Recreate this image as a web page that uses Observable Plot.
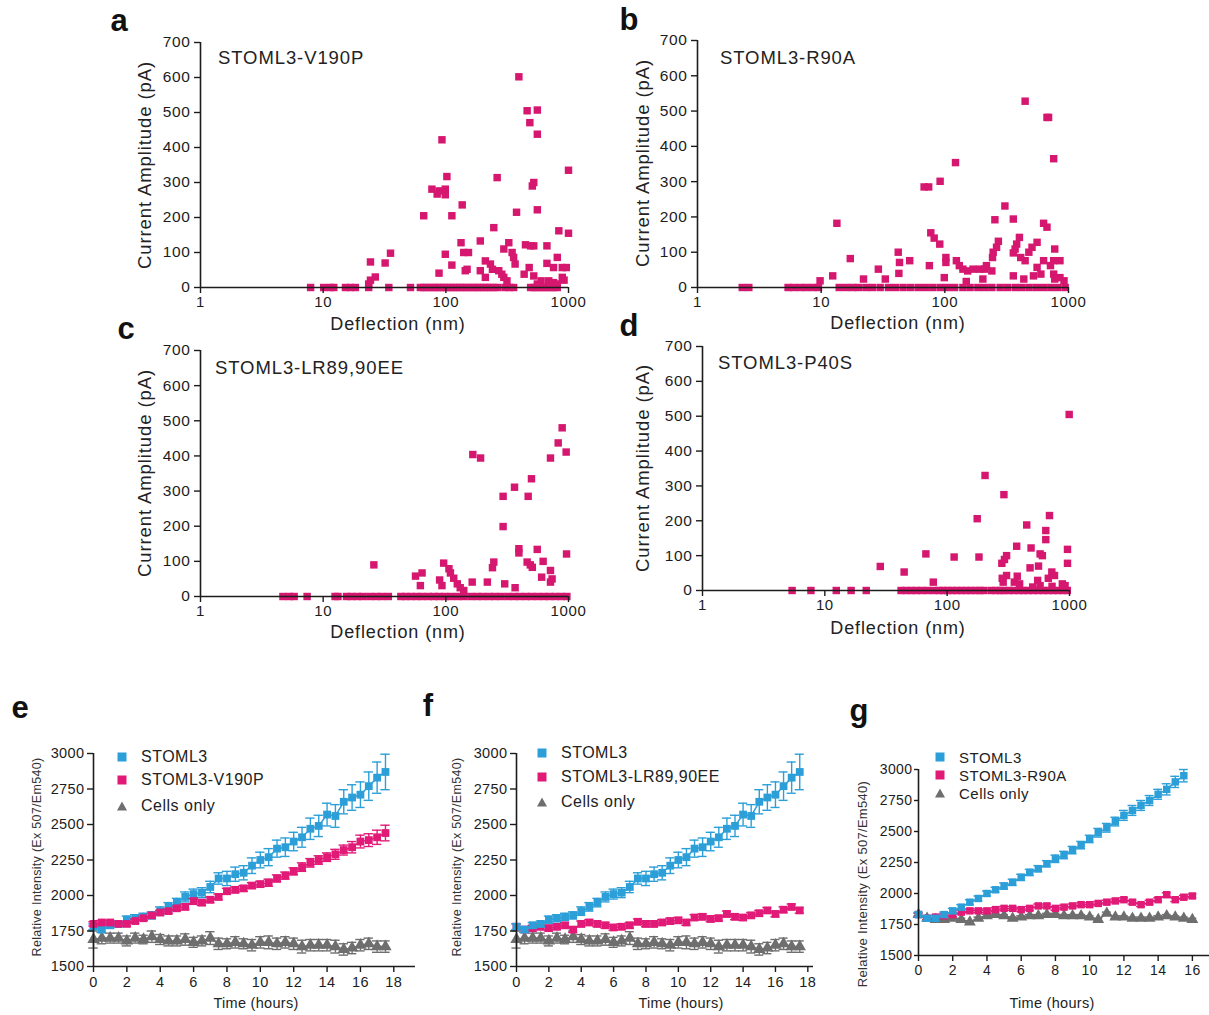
<!DOCTYPE html>
<html><head><meta charset="utf-8">
<script src="https://cdn.jsdelivr.net/npm/d3@7"></script>
<script src="https://cdn.jsdelivr.net/npm/@observablehq/plot@0.6"></script>
<style>
html,body{margin:0;padding:0;background:#fff;overflow:hidden;}
#root{position:relative;width:1209px;height:1015px;overflow:hidden;background:#fff;font-family:'Liberation Sans',Arial,Helvetica,sans-serif;}
#root svg{position:absolute;overflow:visible;}
</style></head>
<body><div id="root"></div>
<script>
// ---------------- DATA ----------------
// Scatter panels: [deflection (nm), current amplitude (pA)]
const pointsA = [
  [7.9,0],[10.1,0],[11.5,0],[12.2,0],[15.2,0],[16.7,0],[18.3,0],[23.5,0],[34.3,0],[51.5,0],[62,0],[66,0],[70,0],[75,0],[80,0],[85,0],[90,0],[96,0],[102,0],[109,0],[116,0],[123,0],[131,0],[140,0],[149,0],[159,0],[169,0],[180,0],[191,0],[204,0],[217,0],[231,0],[246,0],[265,0],[304,0],[330,0],[357,0],[491,0],[523,0],[557,0],[593,0],[631,0],[672,0],[715,0],[762,0],[810,0],
  [394,602],[460,505],[557,507],[484,471],[557,438],[93,422],[1000,335],[262,314],[102,317],[521,300],[507,290],[77,281],[88,276],[99,281],[85,267],[99,265],[136,236],[557,222],[377,215],[66,205],[112,205],[246,171],[834,162],[1000,155],[191,133],[133,128],[326,128],[446,122],[491,119],[521,119],[667,119],[35.4,98],[99,95],[140,100],[153,100],[297,110],[347,100],[357,86],[810,86],[24.3,73],[32,70],[367,67],[112,64],[210,76],[231,67],[667,69],[478,57],[755,57],[890,57],[960,57],[240,52],[270,48],[191,48],[149,52],[144,48],[88,41],[286,38],[435,38],[521,33],[26.6,30],[210,29],[297,29],[890,29],[920,21],[24.3,21],[315,19],[598,19],[690,19],[755,14],[557,10],[23.5,10],[810,10]
];
const pointsB = [
  [2.3,0],[2.6,0],[5.4,0],[6.0,0],[6.8,0],[7.6,0],[8.6,0],[9.5,0],[14,0],[16,0],[18,0],[20,0],[23,0],[26,0],[30,0],[35,0],[40,0],[46,0],[53,0],[61,0],[70,0],[80,0],[92,0],[105,0],[120,0],[140,0],[160,0],[185,0],[210,0],[240,0],[280,0],[320,0],[370,0],[420,0],[480,0],[550,0],[630,0],[720,0],[820,0],[940,0],
  [446,528],[670,482],[690,482],[759,365],[122,354],[91.6,301],[68,285],[74,285],[306,231],[358,194],[254,192],[13.4,182],[629,182],[670,171],[77,155],[82,140],[91,123],[401,142],[381,123],[271,131],[262,114],[246,100],[243,85],[557,128],[507,114],[478,100],[370,109],[358,98],[774,109],[42,100],[17.2,82],[102,85],[102,71],[124,76],[131,62],[140,52],[153,47],[169,52],[191,52],[217,62],[210,52],[411,85],[446,76],[629,76],[759,76],[853,76],[52,76],[43,71],[75,62],[557,57],[715,62],[29,52],[240,47],[42.5,40],[759,38],[853,28],[99,28],[12.4,33],[358,33],[521,33],[598,38],[9.8,19],[22,24],[33,24],[149,17],[203,24],[435,24],[920,19],[774,24]
];
const pointsC = [
  [4.7,0],[5.3,0],[5.8,0],[7.4,0],[12.5,0],[13.2,0],[15.5,0],[17,0],[19,0],[21,0],[24,0],[27,0],[30,0],[34,0],[43,0],[47,0],[52,0],[58,0],[64,0],[72,0],[80,0],[88,0],[98,0],[110,0],[125,0],[140,0],[160,0],[180,0],[200,0],[225,0],[250,0],[280,0],[320,0],[360,0],[400,0],[450,0],[500,0],[560,0],[630,0],[700,0],[780,0],[870,0],[970,0],
  [888,480],[824,437],[957,411],[713,394],[166,404],[192,394],[499,335],[363,311],[293,285],[469,285],[293,199],[394,136],[394,124],[556,134],[964,121],[460,98],[488,90],[507,83],[621,100],[25.9,90],[246,98],[240,82],[96,95],[106,79],[109,67],[116,52],[713,74],[735,50],[713,41],[604,55],[56.6,58],[64,67],[62,31],[89,47],[93,31],[124,36],[131,25],[140,17],[164,41],[218,41],[302,36],[367,25]
];
const pointsD = [
  [5.4,0],[7.7,0],[12.4,0],[16.4,0],[21.8,0],[42,0],[46,0],[51,0],[56,0],[62,0],[69,0],[78,0],[86,0],[93,0],[101,0],[110,0],[120,0],[131,0],[143,0],[156,0],[170,0],[185,0],[198,0],[228,0],[250,0],[272,0],[290,0],[320,0],[350,0],[385,0],[420,0],[460,0],[505,0],[555,0],[610,0],[670,0],[735,0],[800,0],[880,0],[960,0],
  [994,505],[204,330],[291,275],[686,215],[176,206],[447,188],[640,172],[640,146],[370,127],[485,122],[963,118],[575,105],[600,100],[67,105],[114,96],[182,96],[306,100],[294,89],[963,78],[280,78],[476,65],[558,70],[28.4,69],[44.5,53],[717,53],[754,43],[306,43],[374,41],[671,35],[282,35],[354,24],[391,19],[549,29],[874,19],[920,14],[77,24],[287,24],[500,10],[575,14],[720,12]
];
const scatterTitles = ["STOML3-V190P", "STOML3-R90A", "STOML3-LR89,90EE", "STOML3-P40S"];
const deflectionTicks = [1, 10, 100, 1000];
const amplitudeTicks = [0, 100, 200, 300, 400, 500, 600, 700];

// Time course panels (hours, relative intensity Ex 507/Em540)
const timeEF = [0,0.5,1,1.5,2,2.5,3,3.5,4,4.5,5,5.5,6,6.5,7,7.5,8,8.5,9,9.5,10,10.5,11,11.5,12,12.5,13,13.5,14,14.5,15,15.5,16,16.5,17,17.5];
const stoml3EF = [1780,1760,1790,1800,1830,1840,1850,1860,1890,1920,1950,1990,2010,2020,2060,2120,2120,2150,2160,2210,2250,2270,2330,2340,2380,2410,2470,2490,2570,2560,2660,2690,2710,2770,2830,2870];
const stoml3EFerr = [20,20,20,20,25,25,25,25,30,30,30,35,35,35,40,40,50,50,50,55,55,60,60,65,65,70,75,75,80,80,85,90,90,100,110,125];
const v190p = [1800,1810,1810,1800,1800,1820,1840,1860,1880,1890,1910,1920,1960,1950,1970,1990,2030,2040,2050,2070,2080,2090,2120,2140,2170,2200,2230,2250,2270,2290,2320,2340,2380,2390,2410,2440];
const v190pErr = [15,15,15,15,15,15,15,15,15,15,15,20,20,20,20,20,20,20,20,20,20,25,25,25,25,30,30,30,30,35,35,40,45,45,50,55];
const lr8990ee = [1780,1760,1770,1780,1770,1780,1790,1760,1800,1810,1800,1790,1775,1780,1790,1815,1800,1800,1810,1820,1825,1810,1845,1850,1835,1840,1870,1850,1845,1860,1875,1895,1870,1900,1920,1895];
const lr8990eeErr = [20,20,20,20,20,20,20,20,20,20,20,20,20,20,20,20,20,20,20,20,20,20,20,20,20,20,20,20,20,20,20,20,20,20,20,20];
const cellsEF = [1690,1700,1700,1700,1680,1700,1690,1710,1690,1680,1680,1690,1670,1680,1700,1660,1660,1670,1660,1650,1670,1670,1660,1670,1660,1640,1650,1650,1650,1640,1620,1630,1650,1660,1640,1640];
const cellsEFerr = [60,40,35,35,35,35,30,40,35,35,35,40,35,35,45,40,35,40,35,40,40,45,40,40,40,45,40,40,40,45,40,40,40,40,40,40];

const timeG = [0,0.5,1,1.5,2,2.5,3,3.5,4,4.5,5,5.5,6,6.5,7,7.5,8,8.5,9,9.5,10,10.5,11,11.5,12,12.5,13,13.5,14,14.5,15,15.5,16];
const stoml3G = [1830,1800,1800,1830,1860,1890,1930,1960,2000,2030,2060,2090,2130,2170,2200,2240,2280,2310,2350,2390,2440,2490,2530,2580,2630,2670,2710,2750,2800,2840,2900,2950];
const stoml3Gerr = [20,20,20,20,20,20,20,20,20,20,25,25,25,25,25,25,30,30,30,30,30,35,35,35,40,40,40,40,40,45,45,50];
const r90a = [1830,1800,1810,1820,1830,1850,1860,1860,1860,1870,1880,1880,1870,1880,1900,1900,1880,1890,1900,1910,1910,1920,1930,1940,1950,1930,1910,1930,1950,1990,1950,1970,1980];
const r90aErr = [15,15,15,15,15,15,15,15,15,15,15,15,15,15,15,15,15,15,15,15,15,15,15,15,15,15,15,15,15,15,15,15,15];
const cellsG = [1830,1800,1790,1790,1800,1790,1770,1800,1820,1830,1820,1800,1810,1820,1820,1830,1830,1820,1820,1820,1810,1790,1840,1810,1810,1800,1800,1800,1810,1820,1810,1800,1790];
const cellsGerr = [10,10,10,10,10,10,10,10,10,10,10,10,10,10,10,10,10,10,10,10,10,10,10,10,10,10,10,10,10,10,10,10,10];

const intensityTicks = [1500, 1750, 2000, 2250, 2500, 2750, 3000];
const timeTicksEF = [0, 2, 4, 6, 8, 10, 12, 14, 16, 18];
const timeTicksG = [0, 2, 4, 6, 8, 10, 12, 14, 16];

// ---------------- STYLE ----------------
const FONT = "'Liberation Sans', Arial, Helvetica, sans-serif";
const INK = "#1c1c1c";
const MAG = "#d6176f";
const BLUE = "#2c9fd8";
const PINK = "#e11a78";
const GRAY = "#6e6e6e";

const root = document.getElementById("root");
function place(el, left, top) { el.style.left = left + "px"; el.style.top = top + "px"; root.appendChild(el); }
function txt(s, x, y, o = {}) {
  const d = document.createElement("div");
  d.textContent = s;
  const size = o.size || 16;
  d.style.cssText = `position:absolute;left:${x}px;top:${y}px;font-size:${size}px;font-weight:${o.weight||"normal"};white-space:nowrap;line-height:1;color:${o.color||"#222"};letter-spacing:${o.ls==null?"0.6px":o.ls};`;
  const tx = o.anchor === "middle" ? "-50%" : o.anchor === "end" ? "-100%" : "0";
  d.style.transform = o.rotate ? "translate(-50%,-50%) rotate(-90deg)" : `translate(${tx},-50%)`;
  root.appendChild(d);
}

// ---------------- SCATTER PANELS ----------------
function scatterPanel(pts, g) {
  const mL = 100, mR = 18, mT = 14, mB = 30;
  const svg = Plot.plot({
    width: g.right - g.axis + mL + mR,
    height: g.bottom - g.top + mT + mB,
    marginLeft: mL, marginRight: mR, marginTop: mT, marginBottom: mB,
    style: {fontFamily: FONT, fontSize: "15.5px", color: INK, background: "transparent", letterSpacing: "0.6px"},
    x: {type: "log", domain: [1, 1000]},
    y: {domain: [0, 700]},
    marks: [
      Plot.dot(pts, {x: d => d[0], y: d => d[1], symbol: "square", r: 4.2, fill: MAG}),
      Plot.ruleY([0], {stroke: INK, strokeWidth: 1.6}),
      Plot.ruleX([1], {stroke: INK, strokeWidth: 1.6}),
      Plot.axisY(amplitudeTicks, {tickSize: 6, tickPadding: 4, label: null, stroke: INK, strokeWidth: 1.4, fontSize: 15.5}),
      Plot.axisX(deflectionTicks, {tickSize: 6, tickPadding: 3, tickFormat: d => String(d), label: null, stroke: INK, strokeWidth: 1.4, fontSize: 15})
    ]
  });
  place(svg, g.axis - mL, g.top - mT);
}
const scatterGeo = [
  {axis: 200, top: 42, bottom: 287, right: 568, title: [218, 58], ylab: [145, 165], xlab: [398, 324], letter: ["a", 119, 20]},
  {axis: 697, top: 40, bottom: 287, right: 1068, title: [720, 58], ylab: [643, 163], xlab: [898, 323], letter: ["b", 629, 19]},
  {axis: 200, top: 350, bottom: 596, right: 568, title: [215, 368], ylab: [145, 473], xlab: [398, 632], letter: ["c", 126, 328]},
  {axis: 702, top: 346, bottom: 590, right: 1069, title: [718, 363], ylab: [643, 468], xlab: [898, 628], letter: ["d", 629, 325]}
];
[pointsA, pointsB, pointsC, pointsD].forEach((pts, i) => {
  const g = scatterGeo[i];
  scatterPanel(pts, g);
  txt(scatterTitles[i], g.title[0], g.title[1], {size: 18.5, ls: "0.9px"});
  txt("Current Amplitude (pA)", g.ylab[0], g.ylab[1], {size: 18.5, ls: "0.9px", rotate: true});
  txt("Deflection (nm)", g.xlab[0], g.xlab[1], {size: 18, ls: "0.9px", anchor: "middle"});
  txt(g.letter[0], g.letter[1], g.letter[2], {size: 31, weight: "bold", anchor: "middle", color: "#111", ls: "0"});
});

// ---------------- TIME COURSE PANELS ----------------
function series(times, vals, errs) { return vals.map((v, i) => ({t: times[i], v, e: errs[i]})); }
function timePanel(list, g) {
  const mL = 90, mT = 12, mB = 34, mR = g.mR;
  const marks = [];
  for (const s of list) {
    marks.push(Plot.line(s.data, {x: "t", y: "v", stroke: s.color, strokeWidth: 1.5}));
    marks.push(Plot.ruleX(s.data, {x: "t", y1: d => d.v - d.e, y2: d => d.v + d.e, stroke: s.color, strokeWidth: 1.4}));
    marks.push(Plot.ruleY(s.data, {y: d => d.v + d.e, x1: d => d.t - g.cap, x2: d => d.t + g.cap, stroke: s.color, strokeWidth: 1.4}));
    marks.push(Plot.ruleY(s.data, {y: d => d.v - d.e, x1: d => d.t - g.cap, x2: d => d.t + g.cap, stroke: s.color, strokeWidth: 1.4}));
    marks.push(Plot.dot(s.data, {x: "t", y: "v", symbol: s.symbol, r: s.r, fill: s.color}));
  }
  marks.push(Plot.ruleY([1500], {stroke: INK, strokeWidth: 1.6}));
  marks.push(Plot.ruleX([0], {stroke: INK, strokeWidth: 1.6}));
  marks.push(Plot.axisY(intensityTicks, {tickSize: g.ytick, tickPadding: g.ypad, tickFormat: d => String(d), label: null, stroke: INK, strokeWidth: 1.4, fontSize: g.font}));
  marks.push(Plot.axisX(g.ticks, {tickSize: 6, tickPadding: g.xpad, tickFormat: d => String(d), label: null, stroke: INK, strokeWidth: 1.4, fontSize: g.font}));
  const svg = Plot.plot({
    width: g.right - g.axis + mL + mR,
    height: g.bottom - g.top + mT + mB,
    marginLeft: mL, marginRight: mR, marginTop: mT, marginBottom: mB,
    style: {fontFamily: FONT, fontSize: g.font + "px", color: INK, background: "transparent", letterSpacing: "0.4px"},
    x: {domain: [0, g.xMax]},
    y: {domain: [1500, 3000]},
    marks
  });
  place(svg, g.axis - mL, g.top - mT);
}
function legend(items, x, ys, size) {
  items.forEach((it, i) => {
    const ns = "http://www.w3.org/2000/svg";
    const s = document.createElementNS(ns, "svg");
    s.setAttribute("width", 12); s.setAttribute("height", 12);
    s.style.left = (x - 6) + "px"; s.style.top = (ys[i] - 6) + "px";
    const shape = document.createElementNS(ns, it.symbol === "triangle" ? "polygon" : "rect");
    if (it.symbol === "triangle") shape.setAttribute("points", "6,1.5 11,10.5 1,10.5");
    else { shape.setAttribute("x", 1.5); shape.setAttribute("y", 1.5); shape.setAttribute("width", 9); shape.setAttribute("height", 9); }
    shape.setAttribute("fill", it.color);
    s.appendChild(shape);
    root.appendChild(s);
    txt(it.label, x + 19, ys[i], {size, ls: "0.5px"});
  });
}

const blueE = {data: series(timeEF, stoml3EF, stoml3EFerr), color: BLUE, symbol: "square", r: 4.4, label: "STOML3"};
const grayE = {data: series(timeEF, cellsEF, cellsEFerr), color: GRAY, symbol: "triangle", r: 4.6, label: "Cells only"};
const pinkE = {data: series(timeEF, v190p, v190pErr), color: PINK, symbol: "square", r: 4.4, label: "STOML3-V190P"};
const pinkF = {data: series(timeEF, lr8990ee, lr8990eeErr), color: PINK, symbol: "square", r: 4.4, label: "STOML3-LR89,90EE"};
const blueG = {data: series(timeG, stoml3G, stoml3Gerr), color: BLUE, symbol: "square", r: 4.2, label: "STOML3"};
const pinkG = {data: series(timeG, r90a, r90aErr), color: PINK, symbol: "square", r: 4.2, label: "STOML3-R90A"};
const grayG = {data: series(timeG, cellsG, cellsGerr), color: GRAY, symbol: "triangle", r: 4.4, label: "Cells only"};

timePanel([grayE, blueE, pinkE], {axis: 93, top: 753, bottom: 966, right: 415, mR: 6, xMax: 19.3, ticks: timeTicksEF, cap: 0.28, font: 14.5, ytick: 6, ypad: 3, xpad: 4});
timePanel([grayE, pinkF, blueE], {axis: 516, top: 753, bottom: 966, right: 813, mR: 6, xMax: 18.35, ticks: timeTicksEF, cap: 0.28, font: 14.5, ytick: 6, ypad: 3, xpad: 4});
timePanel([grayG, pinkG, blueG], {axis: 918, top: 769, bottom: 955, right: 1209, mR: 0, xMax: 17, ticks: timeTicksG, cap: 0.26, font: 14, ytick: 4, ypad: 2, xpad: 4});

legend([blueE, pinkE, grayE], 122, [757, 780, 806], 16);
legend([blueE, pinkF, grayE], 542, [753, 777, 802], 16);
legend([blueG, pinkG, grayG], 940, [757, 775, 793], 15);

const yLabelText = "Relative Intensity (Ex 507/Em540)";
txt(yLabelText, 37, 857, {size: 12.5, rotate: true, ls: "0.3px", color: "#333"});
txt(yLabelText, 457, 857, {size: 12.5, rotate: true, ls: "0.3px", color: "#333"});
txt(yLabelText, 862, 884, {size: 13, rotate: true, ls: "0.3px", color: "#333"});
txt("Time (hours)", 256, 1003, {size: 14.5, anchor: "middle", ls: "0.3px"});
txt("Time (hours)", 681, 1003, {size: 14.5, anchor: "middle", ls: "0.3px"});
txt("Time (hours)", 1052, 1003, {size: 14.5, anchor: "middle", ls: "0.3px"});
txt("e", 20, 707, {size: 31, weight: "bold", anchor: "middle", color: "#111", ls: "0"});
txt("f", 428, 705, {size: 31, weight: "bold", anchor: "middle", color: "#111", ls: "0"});
txt("g", 859, 710, {size: 31, weight: "bold", anchor: "middle", color: "#111", ls: "0"});
</script>
</body></html>
